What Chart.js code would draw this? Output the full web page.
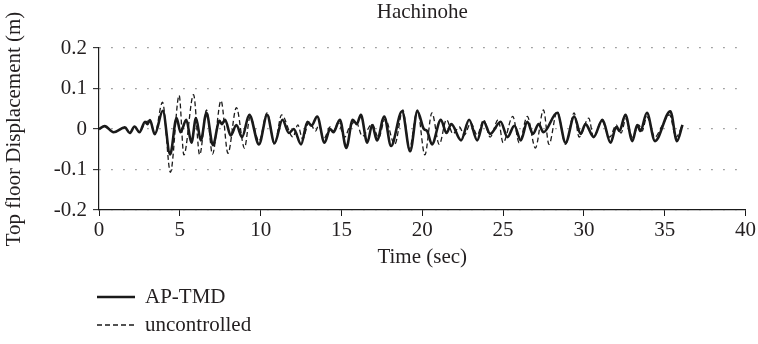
<!DOCTYPE html>
<html>
<head>
<meta charset="utf-8">
<script src="https://cdn.jsdelivr.net/npm/chart.js@4.4.1/dist/chart.umd.min.js"></script>
<style>
  html, body { margin: 0; padding: 0; background: #ffffff; }
  #wrap { width: 758px; height: 344px; position: relative; }
</style>
</head>
<body>
<div id="wrap"><canvas id="c" width="758" height="344"></canvas></div>
<script>
// ---- Data ----
const chartTitle = "Hachinohe";
const seriesNames = ["AP-TMD", "uncontrolled"];

// AP-TMD: time (s) and top floor displacement (m)
const timeAP = [0, 0.35, 0.9, 1.6, 1.9, 2.2, 2.5, 2.85, 3.0, 3.15, 3.45, 3.95, 4.4, 4.8, 5.05, 5.4, 5.72, 6.0, 6.3, 6.65,
  7.05, 7.45, 7.6, 7.8, 8.15, 8.5, 8.85, 9.3, 9.9, 10.4, 10.86, 11.35, 11.75, 12.05, 12.5, 12.9, 13.15, 13.5, 13.95, 14.3,
  14.5, 14.9, 15.3, 15.7, 15.95, 16.2, 16.6, 16.9, 17.2, 17.65, 18.07, 18.75, 19.25, 19.7, 20.1, 20.3, 20.6, 21.15, 21.5, 21.8,
  22.4, 22.9, 23.4, 23.8, 24.2, 24.85, 25.27, 25.7, 26.1, 26.5, 26.85, 27.2, 27.5, 28.35, 28.87, 29.4, 29.8, 30.1, 30.6, 31.15,
  31.65, 32.0, 32.2, 32.57, 33.0, 33.3, 33.5, 33.9, 34.4, 35.35, 35.76, 36.1];
const dispAP = [0, 0.007, -0.008, 0.004, -0.01, 0.006, -0.008, 0.018, 0.012, 0.022, -0.013, 0.045, -0.063, 0.027, -0.008, 0.023, -0.034, 0.027, -0.028, 0.04,
  -0.04, 0.02, 0.012, 0.023, -0.016, 0.01, -0.02, 0.035, -0.038, 0.035, -0.035, 0.023, -0.01, 0.0, -0.038, 0.018, 0.008, 0.031, -0.034, 0.0,
  -0.008, 0.023, -0.047, 0.023, 0.012, 0.035, -0.034, 0.01, -0.028, 0.031, -0.042, 0.044, -0.055, 0.044, 0.0, -0.005, -0.038, 0.023, -0.01, 0.012,
  -0.028, 0.023, -0.028, 0.018, -0.012, 0.018, -0.02, 0.008, -0.028, 0.018, -0.012, 0.012, -0.008, 0.04, -0.034, 0.031, -0.012, 0.012, -0.02, 0.023,
  -0.034, 0.005, -0.005, 0.035, -0.03, 0.01, -0.005, 0.04, -0.03, 0.044, -0.03, 0.01];

// uncontrolled: time (s) and top floor displacement (m)
const timeUN = [0, 0.35, 0.9, 1.6, 1.9, 2.2, 2.5, 2.85, 3.15, 3.45, 3.93, 4.42, 4.96, 5.25, 5.85, 6.23, 6.65, 7.02, 7.55, 7.98,
  8.5, 9.0, 9.35, 9.9, 10.4, 10.86, 11.3, 12.0, 12.3, 12.6, 13.0, 13.4, 13.6, 13.9, 14.3, 14.5, 14.8, 15.2, 15.5, 15.9,
  16.3, 16.9, 17.3, 17.7, 18.3, 18.8, 19.2, 19.7, 20.16, 20.6, 21.05, 21.5, 21.9, 22.3, 22.6, 23.0, 23.4, 23.8, 24.2, 24.7,
  25.0, 25.6, 26.0, 26.5, 27.0, 27.5, 27.84, 28.35, 28.87, 29.4, 29.7, 30.3, 30.6, 31.1, 31.6, 32.0, 32.3, 32.6, 33.0, 33.4,
  33.6, 33.9, 34.4, 34.8, 35.3, 35.7, 36.1];
const dispUN = [0, 0.006, -0.007, 0.004, -0.009, 0.006, -0.008, 0.016, 0.02, -0.012, 0.066, -0.107, 0.083, -0.064, 0.085, -0.064, 0.047, -0.062, 0.07, -0.06,
  0.053, -0.047, 0.03, -0.03, 0.04, -0.038, 0.035, -0.02, 0.01, -0.025, 0.018, -0.005, 0.01, -0.025, 0.005, -0.005, 0.015, -0.02, 0.005, 0.018,
  -0.018, 0.012, -0.022, 0.025, -0.038, 0.047, -0.05, 0.047, -0.064, 0.04, -0.038, 0.023, -0.012, 0.005, -0.015, 0.015, -0.015, 0.023, -0.02, 0.023,
  -0.034, 0.031, -0.034, 0.031, -0.047, 0.047, -0.038, 0.044, -0.038, 0.04, -0.02, 0.027, -0.02, 0.02, -0.02, 0.01, -0.01, 0.025, -0.02, 0.01,
  -0.005, 0.03, -0.02, 0.005, 0.035, -0.02, 0.01];

// axis ticks
const xTickValues = [0, 5, 10, 15, 20, 25, 30, 35, 40];
const yTickValues = [-0.2, -0.1, 0, 0.1, 0.2];
const xAxisTitle = "Time (sec)";
const yAxisTitle = "Top floor Displacement (m)";

// ---- Chart ----
const FONT = "'Liberation Serif', 'DejaVu Serif', serif";
const FS = 21;
const TEXT = "#231f20";
const LINE = "#1a1a1a";

const toXY = (ts, vs) => ts.map((t, i) => ({ x: t, y: vs[i] }));

const verticalLegend = {
  id: 'verticalLegend',
  afterDraw(chart) {
    const ctx = chart.ctx;
    const x0 = 97, x1 = 135, tx = 145;
    const rows = [297, 325];
    ctx.save();
    chart.data.datasets.forEach((ds, i) => {
      const y = rows[i];
      ctx.beginPath();
      ctx.lineWidth = ds.borderWidth;
      ctx.strokeStyle = ds.borderColor;
      ctx.setLineDash(ds.borderDash || []);
      ctx.moveTo(x0, y);
      ctx.lineTo(x1, y);
      ctx.stroke();
      ctx.setLineDash([]);
      ctx.fillStyle = TEXT;
      ctx.font = FS + "px " + FONT;
      ctx.textBaseline = 'middle';
      ctx.textAlign = 'left';
      ctx.fillText(ds.label, tx, y);
    });
    ctx.restore();
  }
};

new Chart(document.getElementById('c'), {
  type: 'line',
  data: {
    datasets: [
      {
        label: seriesNames[0],
        data: toXY(timeAP, dispAP),
        borderColor: LINE,
        borderWidth: 2.6,
        pointRadius: 0,
        cubicInterpolationMode: 'monotone',
        fill: false
      },
      {
        label: seriesNames[1],
        data: toXY(timeUN, dispUN),
        borderColor: LINE,
        borderWidth: 1.3,
        borderDash: [5, 3],
        pointRadius: 0,
        cubicInterpolationMode: 'monotone',
        fill: false
      }
    ]
  },
  options: {
    responsive: false,
    animation: false,
    events: [],
    layout: { padding: { left: 0, right: 10, top: 0, bottom: 74 } },
    plugins: {
      legend: { display: false },
      tooltip: { enabled: false },
      title: {
        display: true,
        text: chartTitle,
        fullSize: false,
        color: TEXT,
        font: { family: FONT, size: FS, weight: 'normal' },
        padding: { top: 0, bottom: 22.8 }
      }
    },
    scales: {
      x: {
        type: 'linear',
        min: 0, max: 40,
        afterBuildTicks: (axis) => { axis.ticks = xTickValues.map(v => ({ value: v })); },
        afterFit: (axis) => { axis.height = 60; },
        ticks: { color: TEXT, font: { family: FONT, size: FS }, padding: 2, maxRotation: 0 },
        grid: { drawOnChartArea: false, drawTicks: true, tickLength: 6, tickColor: LINE, tickWidth: 1 },
        border: { display: true, color: LINE, width: 1.2 },
        title: { display: true, text: xAxisTitle, color: TEXT, font: { family: FONT, size: FS }, padding: { top: 2, bottom: 0 } }
      },
      y: {
        min: -0.2, max: 0.2,
        afterBuildTicks: (axis) => { axis.ticks = yTickValues.map(v => ({ value: v })); },
        afterFit: (axis) => { axis.width = 99; },
        ticks: {
          color: TEXT, font: { family: FONT, size: FS }, padding: 6,
          callback: (v) => String(Math.round(v * 10) / 10)
        },
        grid: {
          drawOnChartArea: true, drawTicks: true, tickLength: 6,
          color: '#8a8a8a', lineWidth: 1.3,
          tickColor: LINE, tickWidth: 1, tickBorderDash: []
        },
        border: { display: true, color: LINE, width: 1.2, dash: [1.5, 10.5] },
        title: { display: true, text: yAxisTitle, color: TEXT, font: { family: FONT, size: FS }, padding: { top: 1.5, bottom: 0 } }
      }
    }
  },
  plugins: [verticalLegend]
});
</script>
</body>
</html>
